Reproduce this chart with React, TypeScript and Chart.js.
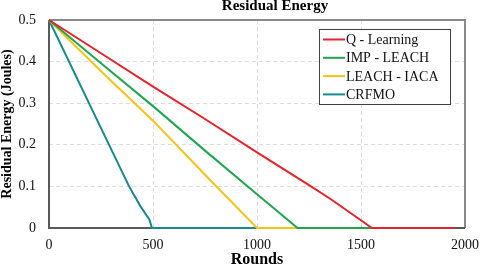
import React, { useEffect, useRef } from "react";
import { Chart, registerables } from "chart.js";

Chart.register(...registerables);

const chartTitle = "Residual Energy";
const xAxisTitle = "Rounds";
const yAxisTitle = "Residual Energy (Joules)";
const seriesNames = ["Q - Learning", "IMP - LEACH", "LEACH - IACA", "CRFMO"];
const seriesColors = ["#e5232a", "#1fa54f", "#f5c21b", "#168a8d"];

const qRounds = [0, 250, 500, 750, 1000, 1250, 1350, 1510, 1552, 1950];
const qEnergy = [0.5, 0.42, 0.34, 0.262, 0.182, 0.103, 0.071, 0.015, 0, 0];

const impRounds = [0, 250, 500, 750, 1000, 1195, 1590];
const impEnergy = [0.5, 0.396, 0.293, 0.186, 0.081, 0, 0];

const iacaRounds = [0, 250, 500, 750, 1000, 1200];
const iacaEnergy = [0.5, 0.377, 0.258, 0.128, 0, 0];

const crfmoRounds = [0, 250, 385, 440, 483, 495, 1000];
const crfmoEnergy = [0.5, 0.24, 0.1, 0.052, 0.02, 0, 0];

const xTicksMax = 2000;
const xStep = 500;
const yTicksMax = 0.5;
const yStep = 0.1;

const SERIF = "'Times New Roman', 'Liberation Serif', serif";

function toPoints(xs: number[], ys: number[]) {
  return xs.map((x, i) => ({ x, y: ys[i] }));
}

const framePlugin = {
  id: "frame",
  beforeDatasetsDraw(chart: any) {
    const { ctx, chartArea: a } = chart;
    ctx.save();
    ctx.lineWidth = 2;
    ctx.strokeStyle = "#8a8a8a";
    ctx.beginPath();
    ctx.moveTo(a.left, a.top);
    ctx.lineTo(a.right, a.top);
    ctx.lineTo(a.right, a.bottom);
    ctx.stroke();
    ctx.strokeStyle = "#5a5a5a";
    ctx.beginPath();
    ctx.moveTo(a.left, a.top);
    ctx.lineTo(a.left, a.bottom);
    ctx.lineTo(a.right, a.bottom);
    ctx.stroke();
    ctx.restore();
  },
};

const overlayPlugin = {
  id: "overlay",
  afterDraw(chart: any) {
    const { ctx } = chart;
    ctx.save();
    ctx.font = `bold 15px ${SERIF}`;
    ctx.fillStyle = "#000";
    ctx.textAlign = "center";
    ctx.textBaseline = "alphabetic";
    ctx.fillText(chartTitle, 275, 10);
    const bx = 319.5, by = 29.5, bw = 131, bh = 75;
    ctx.fillStyle = "#fff";
    ctx.fillRect(bx, by, bw, bh);
    ctx.lineWidth = 1;
    ctx.strokeStyle = "#404040";
    ctx.strokeRect(bx, by, bw, bh);
    ctx.font = `14px ${SERIF}`;
    ctx.textAlign = "left";
    ctx.textBaseline = "middle";
    chart.data.datasets.forEach((ds: any, i: number) => {
      const y = 39.5 + i * 18.3;
      ctx.strokeStyle = ds.borderColor;
      ctx.lineWidth = 2;
      ctx.beginPath();
      ctx.moveTo(323, y);
      ctx.lineTo(345, y);
      ctx.stroke();
      ctx.fillStyle = "#111";
      ctx.fillText(ds.label, 346, y + 1);
    });
    ctx.restore();
  },
};

export default function App() {
  const ref = useRef<HTMLCanvasElement | null>(null);
  useEffect(() => {
    document.body.style.margin = "0";
    const canvas = ref.current;
    if (!canvas) return;
    const series = [
      toPoints(qRounds, qEnergy),
      toPoints(impRounds, impEnergy),
      toPoints(iacaRounds, iacaEnergy),
      toPoints(crfmoRounds, crfmoEnergy),
    ];
    const chart = new Chart(canvas, {
      type: "line",
      data: {
        datasets: series.map((pts, i) => ({
          label: seriesNames[i],
          data: pts,
          borderColor: seriesColors[i],
          backgroundColor: seriesColors[i],
          borderWidth: 2,
          pointRadius: 0,
          tension: 0,
          fill: false,
          clip: false,
        })),
      },
      options: {
        animation: false,
        responsive: false,
        layout: { autoPadding: false, padding: { top: 20, right: 15, left: 0, bottom: 0 } },
        plugins: {
          legend: { display: false },
          title: { display: false },
          tooltip: { enabled: false },
        },
        scales: {
          x: {
            type: "linear",
            min: 0,
            max: xTicksMax,
            afterFit: (s: any) => {
              s.height = 37;
              s.paddingLeft = 0;
              s.paddingRight = 0;
            },
            ticks: {
              stepSize: xStep,
              padding: 9,
              color: "#111",
              font: { family: SERIF, size: 14 },
              maxRotation: 0,
              callback: (v: any) => String(Number(v)),
            },
            grid: {
              drawTicks: false,
              lineWidth: 1,
              color: (c: any) =>
                c.tick && (c.tick.value === 0 || c.tick.value === xTicksMax)
                  ? "rgba(0,0,0,0)"
                  : "#dcdcdc",
            },
            border: { display: false, dash: [4, 3] },
            title: {
              display: true,
              text: xAxisTitle,
              color: "#000",
              font: { family: SERIF, size: 16, weight: "bold", lineHeight: 1 },
              padding: { top: 0, bottom: -3 },
            },
          },
          y: {
            min: 0,
            max: yTicksMax,
            afterFit: (s: any) => {
              s.width = 49;
              s.paddingTop = 0;
              s.paddingBottom = 0;
            },
            ticks: {
              stepSize: yStep,
              padding: 13,
              color: "#111",
              font: { family: SERIF, size: 14 },
              callback: (v: any) => (Number(v) === 0 ? "0" : Number(v).toFixed(1)),
            },
            grid: {
              drawTicks: false,
              lineWidth: 1,
              color: (c: any) =>
                c.tick && (Math.abs(c.tick.value) < 1e-9 || Math.abs(c.tick.value - yTicksMax) < 1e-9)
                  ? "rgba(0,0,0,0)"
                  : "#dcdcdc",
            },
            border: { display: false, dash: [4, 3] },
            title: {
              display: true,
              text: yAxisTitle,
              color: "#000",
              font: { family: SERIF, size: 14, weight: "bold", lineHeight: 1 },
              padding: { top: 0, bottom: 0 },
            },
          },
        },
      },
      plugins: [framePlugin, overlayPlugin],
    } as any);
    return () => chart.destroy();
  }, []);
  return <canvas ref={ref} width={480} height={265} style={{ display: "block" }} />;
}
